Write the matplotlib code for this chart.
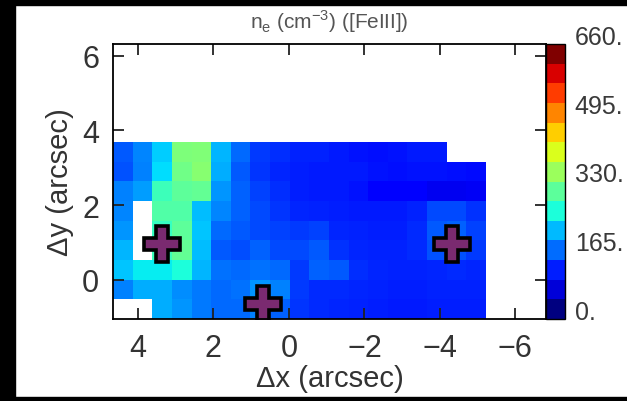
import matplotlib
matplotlib.use('Agg')
import matplotlib.pyplot as plt
from matplotlib.patches import Rectangle
from matplotlib.cm import ScalarMappable
from matplotlib.colors import Normalize
import numpy as np

nan = np.nan
# n_e map, rows from top (y high) to bottom, columns from east (x high) to west
ne_rows = [
    [140, 170, 215, 330, 335, 200, 150, 120, 112, 105, 105, 100, 95, 92, 95, 100, 100, nan, nan],
    [135, 165, 225, 320, 340, 195, 140, 118, 108, 102, 100, 100, 98, 95, 92, 95, 95, 92, 90],
    [165, 185, 280, 305, 310, 180, 145, 125, 112, 102, 100, 100, 95, 82, 78, 75, 65, 65, 68],
    [170, nan, 295, 295, 205, 170, 145, 130, 118, 108, 105, 102, 100, 100, 100, 105, 130, 130, 115],
    [180, nan, 275, 305, 210, 150, 140, 130, 125, 120, 125, 108, 105, 102, 102, 110, 140, 145, 125],
    [200, nan, 280, 310, 205, 140, 132, 145, 130, 130, 140, 115, 108, 105, 105, 110, 135, 135, 120],
    [210, 235, 235, 255, 200, 155, 150, 155, 150, 120, 145, 140, 112, 108, 105, 105, 108, 110, 108],
    [165, 195, 195, 175, 160, 150, 155, 180, 165, 120, 110, 110, 108, 105, 102, 102, 105, 105, 105],
    [nan, nan, 195, 180, 160, 150, 150, 165, 145, 118, 110, 108, 105, 102, 100, 100, 102, 102, 102],
]
marker_x = [3.35, -4.31, 0.68]
marker_y = [0.97, 0.97, -0.65]
cbar_ticks = [0, 165, 330, 495, 660]
cbar_labels = ['0.', '165.', '330.', '495.', '660.']
x_ticks = [4, 2, 0, -2, -4, -6]
y_ticks = [0, 2, 4, 6]

ne = np.array(ne_rows, dtype=float)[::-1]   # flip so row 0 is the bottom
ny, nx = ne.shape
xedges = np.linspace(4.66, -5.22, nx + 1)
yedges = np.linspace(-1.05, 3.69, ny + 1)

plt.rcParams['font.family'] = ['Liberation Sans', 'DejaVu Sans']
plt.rcParams['mathtext.fontset'] = 'custom'
plt.rcParams['mathtext.rm'] = 'Liberation Sans'

W, H = 627, 402
fig = plt.figure(figsize=(W / 100, H / 100), dpi=100)
ax = fig.add_axes([113 / W, (H - 320) / H, (546 - 113) / W, 275 / H])

vmin, vmax = 0, 660
ax.pcolormesh(xedges, yedges, np.ma.masked_invalid(ne), cmap='jet',
              vmin=vmin, vmax=vmax, shading='flat')
ax.plot(marker_x, marker_y, ls='none', marker='P', ms=26, mfc='#7a2a70',
        mec='black', mew=2.6)

ax.set_xlim(4.66, -6.81)
ax.set_ylim(-1.05, 6.31)
ax.set_xticks(x_ticks)
ax.set_yticks(y_ticks)
ax.set_xticklabels([str(t).replace('-', '\u2212') for t in x_ticks])
ax.tick_params(direction='in', length=8, width=1.3, top=True, right=True,
               labelsize=22, labelcolor='#333333', color='#222222', pad=10)
for s in ax.spines.values():
    s.set_linewidth(1.3)
ax.set_xlabel('\u0394x (arcsec)', fontsize=21, color='#333333', labelpad=1)
ax.set_ylabel('\u0394y (arcsec)', fontsize=21, color='#333333', labelpad=6)
ax.set_title(r'n$_{\rm e}$ (cm$^{-3}$) ([FeIII])', fontsize=15,
             color='#555555', pad=12)

cax = fig.add_axes([546 / W, (H - 320) / H, 19 / W, 275 / H])
sm = ScalarMappable(norm=Normalize(vmin, vmax), cmap=plt.get_cmap('jet', 14))
cb = fig.colorbar(sm, cax=cax)
cb.set_ticks(cbar_ticks)
cb.set_ticklabels(cbar_labels)
cb.outline.set_linewidth(1.0)
cax.tick_params(length=0, labelsize=18, labelcolor='#3a3a3a', pad=7)
for lab in cax.get_yticklabels():
    lab.set_va('baseline')

# black frame strips of the original screenshot
fig.patches.append(Rectangle((0, 0), 15 / W, 1, transform=fig.transFigure,
                             color='black', zorder=10))
fig.patches.append(Rectangle((0, 1 - 6 / H), 1, 6 / H, transform=fig.transFigure,
                             color='black', zorder=10))
fig.patches.append(Rectangle((0, 0), 1, 4 / H, transform=fig.transFigure,
                             color='black', zorder=10))

fig.savefig('out.png', dpi=100)
plt.close()
